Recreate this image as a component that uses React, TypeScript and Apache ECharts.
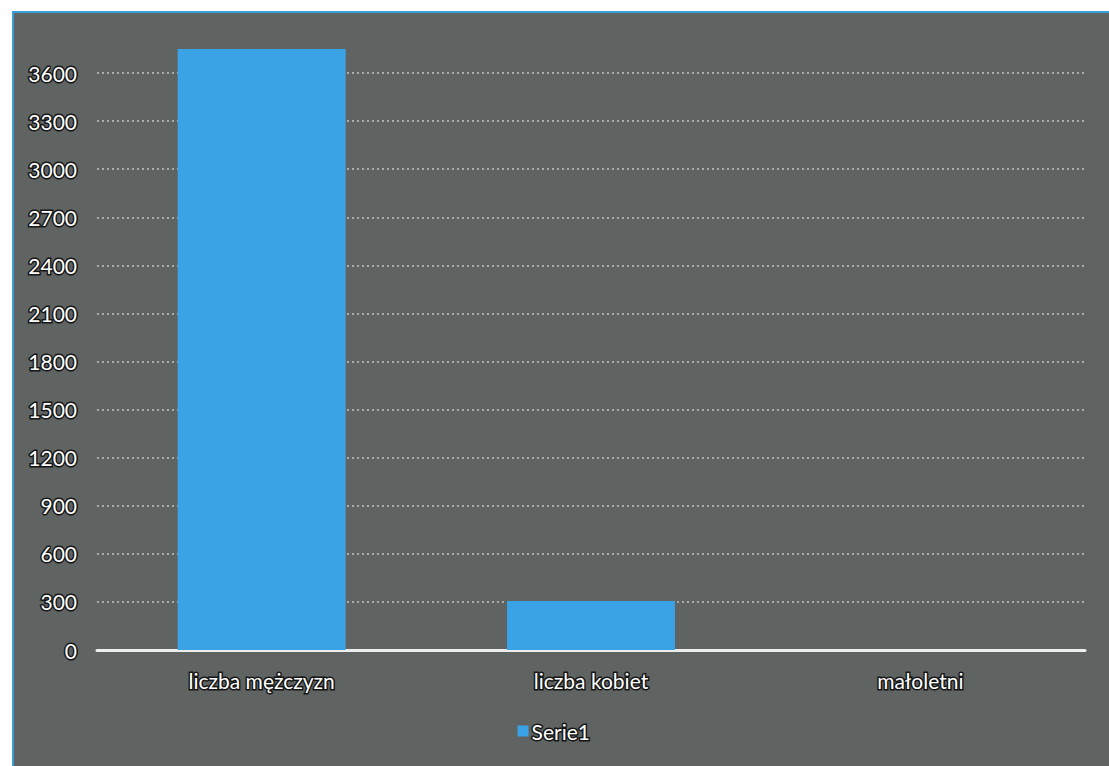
import React, { useEffect, useRef } from "react";
import * as echarts from "echarts";

const categories = ["liczba mężczyzn", "liczba kobiet", "małoletni"];
const serieName = "Serie1";
const values = [3750, 305, 0];
const yMin = 0;
const yMax = 3900;
const yInterval = 300;

const textStyle = {
  color: "#ffffff",
  fontFamily: "Lato, 'Open Sans', sans-serif",
  fontSize: 21,
  textBorderColor: "#151515",
  textBorderWidth: 3,
};

export default function App() {
  const ref = useRef<HTMLDivElement>(null);
  useEffect(() => {
    document.body.style.margin = "0";
    const chart = echarts.init(ref.current!, null, { renderer: "svg" });
    chart.setOption({
      animation: false,
      backgroundColor: "#ffffff",
      graphic: [
        {
          type: "rect",
          z: -10,
          silent: true,
          shape: { x: 13, y: 12, width: 1110, height: 770 },
          style: { fill: "#5f6361", stroke: "#3a9fd8", lineWidth: 2 },
        },
      ],
      grid: { left: 97, right: 24, top: 25, bottom: 116, containLabel: false },
      legend: {
        data: [serieName],
        bottom: 18,
        left: "center",
        itemWidth: 11,
        itemHeight: 11,
        itemGap: 4,
        icon: "rect",
        textStyle: { ...textStyle, padding: [0, 0, 0, -2] },
      },
      xAxis: {
        type: "category",
        data: categories,
        axisLine: { show: true, lineStyle: { color: "#eeeeee", width: 3 } },
        axisTick: { show: false },
        axisLabel: { ...textStyle, margin: 20 },
        splitLine: { show: false },
      },
      yAxis: {
        type: "value",
        min: yMin,
        max: yMax,
        interval: yInterval,
        axisLine: { show: false },
        axisTick: { show: false },
        axisLabel: {
          ...textStyle,
          margin: 20,
          showMaxLabel: false,
          formatter: (v: number) => String(v),
        },
        splitLine: {
          show: true,
          showMaxLine: false,
          lineStyle: { color: "rgba(230,230,230,0.75)", type: [2, 3], width: 1.5 },
        },
      },
      series: [
        {
          name: serieName,
          type: "bar",
          data: values,
          barWidth: "51%",
          itemStyle: { color: "#39a3e6" },
        },
      ],
    });
    return () => chart.dispose();
  }, []);
  return (
    <div
      ref={ref}
      style={{ position: "absolute", left: 0, top: 0, width: 1109, height: 766 }}
    />
  );
}
